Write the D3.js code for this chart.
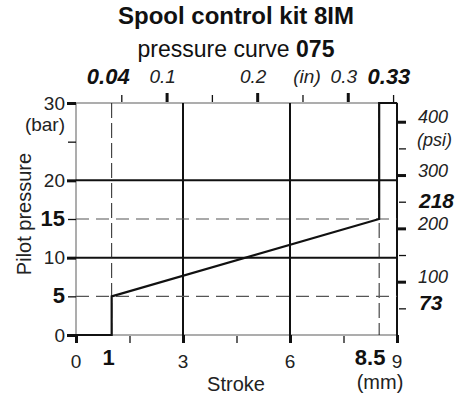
<!DOCTYPE html>
<html>
<head>
<meta charset="utf-8">
<script src="https://cdn.jsdelivr.net/npm/d3@7"></script>
<style>
  html, body { margin: 0; padding: 0; background: #fff; }
  svg { display: block; font-family: "Liberation Sans", Arial, sans-serif; }
</style>
</head>
<body>
<svg id="chart" width="464" height="401"></svg>
<script>
// Pressure curve 075: stroke (mm) against pilot pressure (bar)
const strokeMm    = [0, 1, 1, 8.5, 8.5, 9];
const pressureBar = [0, 0, 5, 15, 30, 30];

// Axis ticks
const strokeMajor = [0, 3, 6, 9];
const strokeMinor = [1.5, 4.5, 7.5];
const strokeLabels = [0, 3, 6, 9];
const strokeKeyLabels = [1, 8.5];

const barMajor = [0, 10, 20, 30];
const barMinor = [5, 15, 25];
const barLabels = [0, 10, 20, 30];
const barKeyLabels = [5, 15];

const inchMajor = [0.1, 0.2, 0.3];
const inchMinor = [0.05, 0.15, 0.25, 0.35];
const inchLabels = [0.1, 0.2, 0.3];
const inchKeyLabels = [0.04, 0.33];

const psiMajor = [100, 200, 300, 400];
const psiMinor = [50, 150, 250, 350];
const psiLabels = [100, 200, 300, 400];
const psiKeyLabels = [73, 218];

// Reference lines
const gridStroke = [3, 6];
const gridBar = [10, 20];
const dashStroke = [1, 8.5];
const dashBar = [5, 15];

const MM_PER_IN = 25.4;
const BAR_PER_PSI = 0.0689476;

const svg = d3.select("#chart");
const L = 76, R = 397, T = 103, B = 335;

const x = d3.scaleLinear().domain([0, 9]).range([L, R]);
const y = d3.scaleLinear().domain([0, 30]).range([B, T]);
const xIn = d3.scaleLinear().domain([0, 9 / MM_PER_IN]).range([L, R]);
const yPsi = d3.scaleLinear().domain([0, 30 / BAR_PER_PSI]).range([B, T]);

// Title
svg.append("text").attr("x", 236).attr("y", 24).attr("text-anchor", "middle")
  .attr("font-size", 24).attr("font-weight", "bold").attr("fill", "#111")
  .text("Spool control kit 8IM");
const sub = svg.append("text").attr("x", 236).attr("y", 57).attr("text-anchor", "middle")
  .attr("font-size", 23).attr("fill", "#111");
sub.append("tspan").text("pressure curve ");
sub.append("tspan").attr("font-weight", "bold").text("075");

// Frame
svg.append("rect").attr("x", L).attr("y", T).attr("width", R - L).attr("height", B - T)
  .attr("fill", "none").attr("stroke", "#777").attr("stroke-width", 1.2);
svg.append("line").attr("x1", R).attr("x2", R).attr("y1", T).attr("y2", B)
  .attr("stroke", "#111").attr("stroke-width", 2);

// Solid grid
svg.selectAll(".gx").data(gridStroke).join("line")
  .attr("x1", d => x(d)).attr("x2", d => x(d)).attr("y1", T).attr("y2", B)
  .attr("stroke", "#111").attr("stroke-width", 2);
svg.selectAll(".gy").data(gridBar).join("line")
  .attr("y1", d => y(d)).attr("y2", d => y(d)).attr("x1", L).attr("x2", R)
  .attr("stroke", "#111").attr("stroke-width", 2);

// Dashed guides
svg.selectAll(".dx").data(dashStroke).join("line")
  .attr("x1", d => x(d)).attr("x2", d => x(d)).attr("y1", T).attr("y2", B)
  .attr("stroke", "#222").attr("stroke-width", 1).attr("stroke-dasharray", "15,5");
svg.selectAll(".dy").data(dashBar).join("line")
  .attr("y1", d => y(d)).attr("y2", d => y(d)).attr("x1", L).attr("x2", R)
  .attr("stroke", "#555").attr("stroke-width", 1.2).attr("stroke-dasharray", "13,7");

// Axes: ticks only, labels set separately
function tickAxis(axisFn, scale, values, size, width, tx, ty) {
  const g = svg.append("g").attr("transform", `translate(${tx},${ty})`)
    .call(axisFn(scale).tickValues(values).tickSize(size).tickFormat(""));
  g.select(".domain").remove();
  g.selectAll("line").attr("stroke", "#111").attr("stroke-width", width);
  return g;
}
tickAxis(d3.axisBottom, x, strokeMajor, 8, 3, 0, B);
tickAxis(d3.axisBottom, x, strokeMinor, 7, 1.3, 0, B + 1);
tickAxis(d3.axisLeft, y, barMajor, 9, 3, L, 0);
tickAxis(d3.axisLeft, y, barMinor, 8, 1.3, L, 0);
tickAxis(d3.axisTop, xIn, inchMajor, 9, 3, 0, T - 1);
tickAxis(d3.axisTop, xIn, inchMinor, 7, 1.3, 0, T - 1);
tickAxis(d3.axisRight, yPsi, psiMajor, 9, 3, R, 0);
tickAxis(d3.axisRight, yPsi, psiMinor, 7, 1.3, R + 2, 0);

// Curve
const line = d3.line().x(d => x(d[0])).y(d => y(d[1]));
svg.append("path").datum(d3.zip(strokeMm, pressureBar)).attr("d", line)
  .attr("fill", "none").attr("stroke", "#111").attr("stroke-width", 2.2)
  .attr("stroke-linejoin", "miter");

// Bottom labels (mm)
const gBottom = svg.append("g").attr("fill", "#222");
gBottom.selectAll("text.n").data(strokeLabels).join("text")
  .attr("x", d => x(d)).attr("y", 368).attr("text-anchor", "middle")
  .attr("font-size", 19).text(d => d);
gBottom.selectAll("text.k").data(strokeKeyLabels).join("text")
  .attr("x", (d, i) => x(d) + [-3, -9][i]).attr("y", 365).attr("text-anchor", "middle")
  .attr("font-size", 22).attr("font-weight", "bold").attr("fill", "#111").text(d => d);
gBottom.append("text").attr("x", 236).attr("y", 391).attr("text-anchor", "middle")
  .attr("font-size", 20).text("Stroke");
gBottom.append("text").attr("x", 380).attr("y", 389).attr("text-anchor", "middle")
  .attr("font-size", 20).text("(mm)");

// Left labels (bar)
const gLeft = svg.append("g").attr("fill", "#222").attr("text-anchor", "end");
gLeft.selectAll("text.n").data(barLabels).join("text")
  .attr("x", 65).attr("y", d => y(d) + 6.5).attr("font-size", 19).text(d => d);
gLeft.selectAll("text.k").data(barKeyLabels).join("text")
  .attr("x", 65).attr("y", d => y(d) + 7).attr("font-size", 22)
  .attr("font-weight", "bold").attr("fill", "#111").text(d => d);
gLeft.append("text").attr("x", 65).attr("y", 131).attr("font-size", 19).text("(bar)");
svg.append("text").attr("transform", "translate(31,214) rotate(-90)")
  .attr("text-anchor", "middle").attr("font-size", 20).attr("fill", "#222")
  .text("Pilot pressure");

// Top labels (in)
const gTop = svg.append("g").attr("fill", "#222").attr("text-anchor", "middle")
  .attr("font-style", "italic");
gTop.selectAll("text.n").data(inchLabels).join("text")
  .attr("x", d => xIn(d) - 4).attr("y", 83).attr("font-size", 19).text(d => d);
gTop.selectAll("text.k").data(inchKeyLabels).join("text")
  .attr("x", (d, i) => xIn(d) + [-4, 14][i]).attr("y", 84).attr("font-size", 22)
  .attr("font-weight", "bold").attr("fill", "#111").text(d => d);
gTop.append("text").attr("x", 307).attr("y", 83).attr("font-size", 19).text("(in)");

// Right labels (psi)
const gRight = svg.append("g").attr("fill", "#222").attr("font-style", "italic");
gRight.selectAll("text.n").data(psiLabels).join("text")
  .attr("x", 418).attr("y", d => yPsi(d) + 1.5).attr("font-size", 18).text(d => d);
gRight.selectAll("text.k").data(psiKeyLabels).join("text")
  .attr("x", 419).attr("y", (d, i) => yPsi(d) + [14, -10.5][i]).attr("font-size", 21)
  .attr("font-weight", "bold").attr("fill", "#111").text(d => d);
gRight.append("text").attr("x", 417).attr("y", 146).attr("font-size", 18).text("(psi)");
</script>
</body>
</html>
